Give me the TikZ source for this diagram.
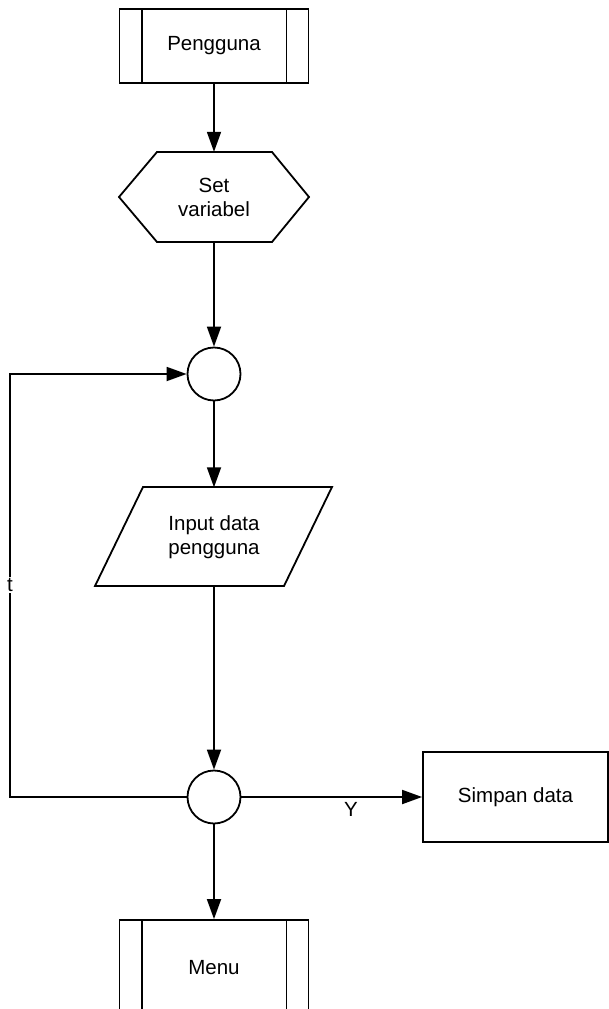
\documentclass[tikz,border=0pt]{standalone}
\usepackage{fontspec}
\setmainfont{Liberation Sans}
\usetikzlibrary{arrows.meta}
\begin{document}
\begin{tikzpicture}[x=1pt,y=-1pt,
  every node/.style={font=\fontsize{20.5}{24}\selectfont, align=center},
  ln/.style={line width=1.8pt},
  arr/.style={ln, -{Triangle[length=20pt,width=14pt]}},
  boxnode/.style={draw, ln, rectangle, minimum width=#1, inner sep=0pt},
  ghost/.style={draw=none, rectangle, inner sep=0pt},
  junction/.style={draw, ln, circle, minimum size=53pt, inner sep=0pt}]
\fill[white] (0,0) rectangle (609,1009);
\useasboundingbox (0,0) rectangle (609,1009);

% Pengguna (predefined process)
\node[boxnode=189pt, minimum height=74pt] (peng) at (214,46) {Pengguna};
\draw[ln] ([xshift=23pt]peng.north west) -- ([xshift=23pt]peng.south west);
\draw[ln] ([xshift=-23pt]peng.north east) -- ([xshift=-23pt]peng.south east);

% Set variabel (hexagon)
\node[ghost, minimum width=190pt, minimum height=90pt] (hex) at (214,197) {Set\\variabel};
\draw[ln] (157,152) -- (272,152) -- (309,197) -- (272,242) -- (157,242) -- (119,197) -- cycle;

% junction 1
\node[junction] (c1) at (214,374) {};

% Input data pengguna (parallelogram)
\node[ghost, minimum width=190pt, minimum height=99pt] (inp) at (214,537) {Input data\\pengguna};
\draw[ln] (143,487) -- (332,487) -- (284,586) -- (95,586) -- cycle;

% junction 2
\node[junction] (c2) at (214,797) {};

% Simpan data
\node[boxnode=185pt, minimum height=90pt] (simp) at (515.5,797) {Simpan data};

% Menu (predefined process, cut by page edge)
\begin{scope}
\clip (0,0) rectangle (609,1009);
\node[boxnode=189pt, minimum height=96pt] (menu) at (214,968) {Menu};
\draw[ln] ([xshift=23pt]menu.north west) -- ([xshift=23pt]menu.south west);
\draw[ln] ([xshift=-23pt]menu.north east) -- ([xshift=-23pt]menu.south east);
\end{scope}

% connectors
\draw[arr] (peng.south) -- (hex.north);
\draw[arr] (hex.south) -- (c1.north);
\draw[arr] (c1.south) -- (inp.north);
\draw[arr] (inp.south) -- (c2.north);
\draw[arr] (c2.east) -- (simp.west);
\draw[arr] (c2.south) -- (menu.north);

\coordinate (lb) at (10,797);
\coordinate (lt) at (10,374);
\draw[arr] (c2.west) -- (lb) -- (lt) -- (c1.west);

\node[fill=white, inner sep=1pt] (tlab) at (10,585) {t};
\node[inner sep=0pt] (ylab) at (351,809) {Y};
\end{tikzpicture}
\end{document}
